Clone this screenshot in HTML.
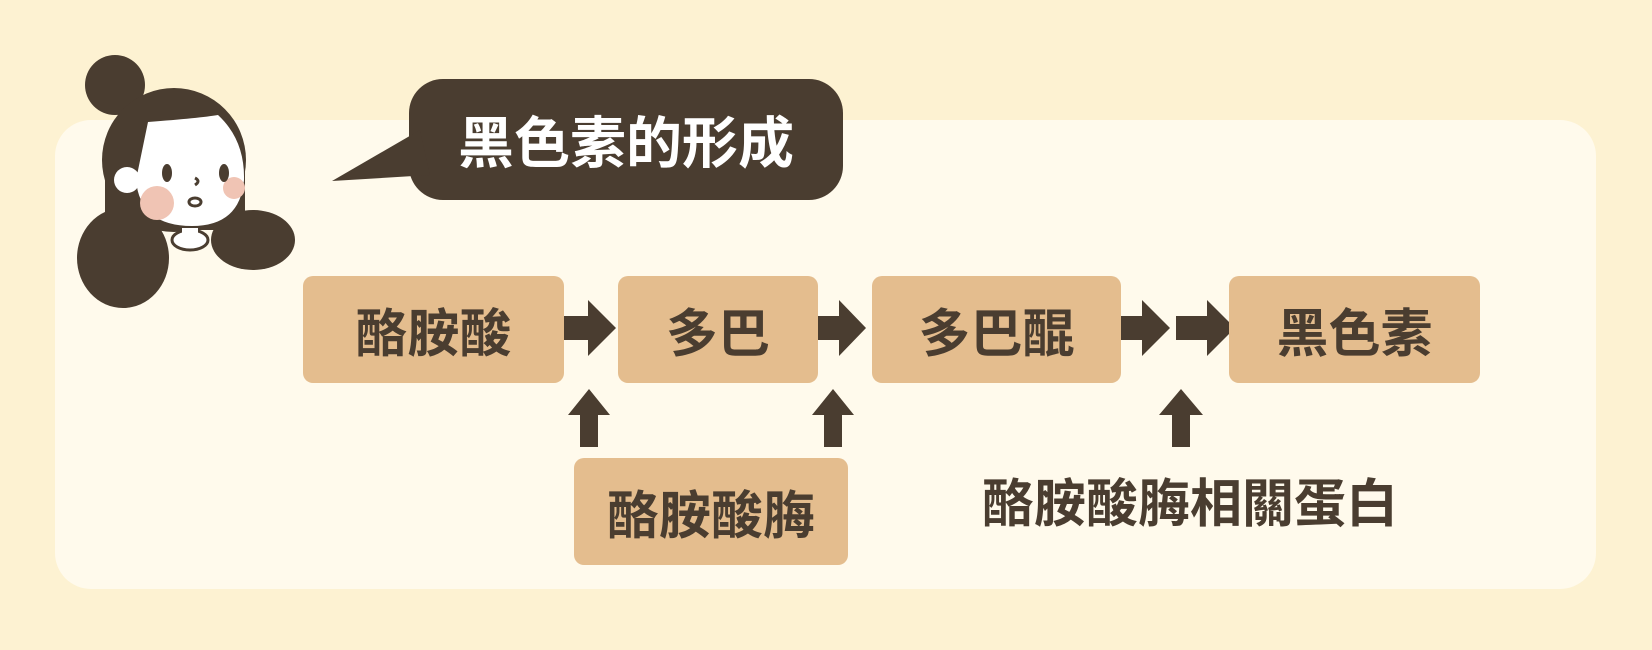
<!DOCTYPE html><html><head><meta charset="utf-8"><style>
body{margin:0;width:1652px;height:650px;background:#fdf2d2;position:relative;overflow:hidden;font-family:"Liberation Sans","Noto Sans CJK TC",sans-serif;font-weight:bold}
.card{position:absolute;left:55px;top:120px;width:1541px;height:469px;background:#fffaec;border-radius:36px}
.b{position:absolute;background:#e4bd8e;border-radius:10px;color:#4a3d30;font-size:52px;display:flex;align-items:center;justify-content:center}
.t{position:absolute;color:#4a3d30;font-size:52px}
</style></head><body>
<div class="card"></div>
<svg width="1652" height="650" style="position:absolute;left:0;top:0">
<g fill="#4a3d30">
<circle cx="115" cy="85" r="30"/>
<circle cx="174" cy="160" r="72"/>
<ellipse cx="123" cy="258" rx="46" ry="50"/>
<ellipse cx="253" cy="240" rx="42" ry="30"/>
<rect x="105" y="160" width="140" height="70"/>
</g>
<path d="M148 122 Q200 118 218 115 Q245 140 244 180 Q240 226 192 226 Q140 226 136 180 Z" fill="#fff"/>
<circle cx="127" cy="180" r="13" fill="#fff"/>
<circle cx="157" cy="203" r="17" fill="#f0c4b4"/>
<circle cx="234" cy="188" r="11" fill="#f0c4b4"/>
<ellipse cx="167" cy="173" rx="5" ry="9" fill="#4a3d30"/>
<ellipse cx="224" cy="173" rx="5" ry="9" fill="#4a3d30"/>
<path d="M195 178 q6 3 0 7" stroke="#4a3d30" stroke-width="3" fill="none"/>
<ellipse cx="195" cy="202" rx="6" ry="4" fill="#fff" stroke="#4a3d30" stroke-width="3"/>
<ellipse cx="190" cy="240" rx="18" ry="10" fill="#fff" stroke="#4a3d30" stroke-width="3"/>
<rect x="182" y="228" width="16" height="10" fill="#fff"/>
<rect x="409" y="79" width="434" height="121" rx="34" fill="#4a3d30"/>
<path d="M332 181 L420 130 L430 175 Z" fill="#4a3d30"/>
<g fill="#4a3d30">
<path d="M558 316 h30 v-16 l28 28 l-28 28 v-16 h-30z"/>
<path d="M809 316 h30 v-16 l27 28 l-27 28 v-16 h-30z"/>
<path d="M1112 316 h30 v-16 l28 28 l-28 28 v-16 h-30z"/>
<path d="M1176 316 h31 v-16 l28 28 l-28 28 v-16 h-31z"/>
<path d="M580 447 v-32 h-12 l21 -26 l21 26 h-12 v32z"/>
<path d="M824 447 v-32 h-12 l21 -26 l21 26 h-12 v32z"/>
<path d="M1172 447 v-32 h-13 l22 -26 l22 26 h-13 v32z"/>
</g>
</svg>
<div class="t" style="left:409px;top:79px;width:434px;height:121px;display:flex;align-items:center;justify-content:center;color:#fff;font-size:56px">黑色素的形成</div>
<div class="b" style="left:303px;top:276px;width:261px;height:107px">酪胺酸</div>
<div class="b" style="left:618px;top:276px;width:200px;height:107px">多巴</div>
<div class="b" style="left:872px;top:276px;width:249px;height:107px">多巴醌</div>
<div class="b" style="left:1229px;top:276px;width:251px;height:107px">黑色素</div>
<div class="b" style="left:574px;top:458px;width:274px;height:107px">酪胺酸脢</div>
<div class="t" style="left:965px;top:462px;width:450px;text-align:center">酪胺酸脢相關蛋白</div>
</body></html>
